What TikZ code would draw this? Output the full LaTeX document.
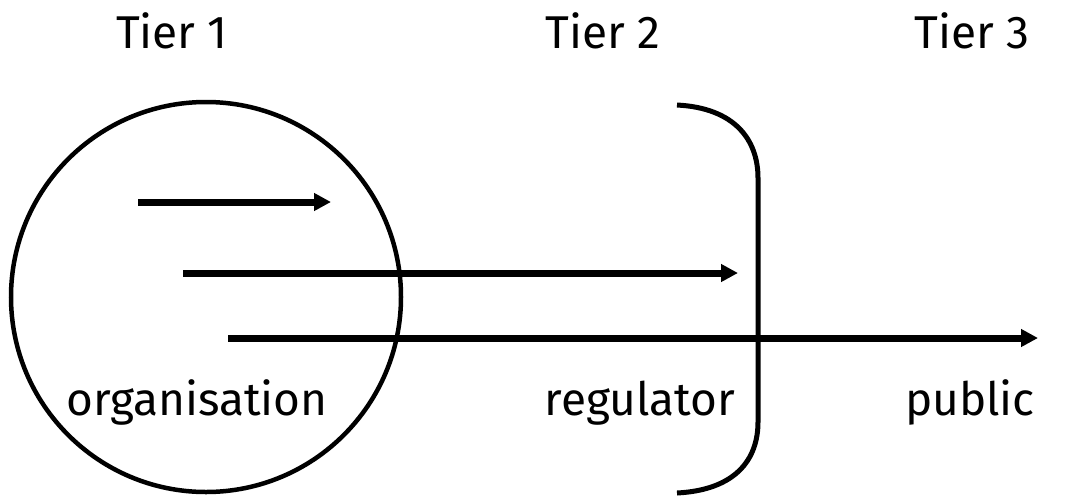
\documentclass[tikz,border=0pt]{standalone}
\usepackage{fontspec}
\setmainfont{Fira Sans}
\usetikzlibrary{arrows.meta, positioning}
\definecolor{ink}{HTML}{000000}
\tikzset{
  label/.style={
    anchor=base,
    inner sep=0pt,
    text=ink,
    font=\fontsize{46}{50}\selectfont
  },
  tier/.style={label},
  party/.style={label},
  ring/.style={draw=ink, circle, line width=4.5pt, inner sep=0pt, minimum size=390pt},
  bracket/.style={draw=ink, line width=5pt},
  arrow/.style={-{Triangle[length=17pt, width=17pt]}, line width=7pt, draw=ink}
}
\begin{document}
\begin{tikzpicture}[x=1pt, y=-1pt]
\useasboundingbox (0,0) rectangle (1068,499);

% tier headings
\node[tier] (tier1) at (172,48) {Tier 1};
\node[tier] (tier2) at (603,48) {Tier 2};
\node[tier] (tier3) at (972,48) {Tier 3};

% organisation circle
\node[ring] (org) at (206,297) {};

% regulator bracket
\draw[bracket] (677,105) .. controls (735,108) and (758,140) .. (758,178)
  -- (758,422) .. controls (758,460) and (735,490) .. (677,493);

\node[party] (orgname) at (197,415) {organisation};
\node[party] (regname) at (640,415) {regulator};
\node[party] (pubname) at (970,415) {public};

% flows
\coordinate (s1) at (138,202);
\coordinate (e1) at (331,202);
\coordinate (s2) at (183,273);
\coordinate (e2) at (738,273);
\coordinate (s3) at (228,338);
\coordinate (e3) at (1038,338);

\draw[arrow] (s1) -- (e1);
\draw[arrow] (s2) -- (e2);
\draw[arrow] (s3) -- (e3);

\end{tikzpicture}
\end{document}
